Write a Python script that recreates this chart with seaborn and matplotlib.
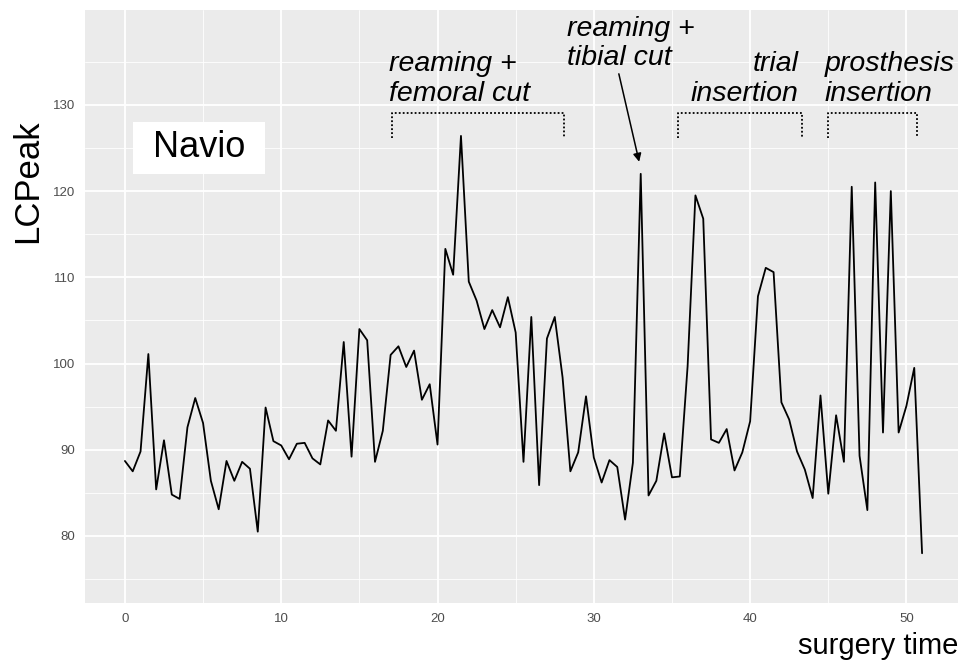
import numpy as np
import pandas as pd
import seaborn as sns
import matplotlib.pyplot as plt
from matplotlib.patches import Rectangle

surgery_time = np.arange(0, 51.5, 0.5)
lcpeak = [
    88.7, 87.5, 89.8, 101.1, 85.4, 91.1, 84.8, 84.3, 92.6, 96.0,
    93.1, 86.4, 83.1, 88.7, 86.4, 88.6, 87.8, 80.5, 94.9, 91.0,
    90.5, 88.9, 90.7, 90.8, 89.0, 88.3, 93.4, 92.2, 102.5, 89.2,
    104.0, 102.7, 88.6, 92.2, 101.0, 102.0, 99.6, 101.5, 95.8, 97.6,
    90.6, 113.3, 110.3, 126.4, 109.5, 107.3, 104.0, 106.2, 104.2, 107.7,
    103.6, 88.6, 105.4, 85.9, 102.9, 105.4, 98.4, 87.5, 89.7, 96.2,
    89.1, 86.2, 88.8, 88.0, 81.9, 88.5, 122.0, 84.7, 86.4, 91.9,
    86.8, 86.9, 99.7, 119.5, 116.8, 91.2, 90.8, 92.4, 87.6, 89.7,
    93.3, 107.8, 111.1, 110.6, 95.5, 93.5, 89.8, 87.7, 84.4, 96.3,
    84.9, 94.0, 88.6, 120.5, 89.3, 83.0, 121.0, 92.0, 120.0, 92.0,
    95.1, 99.5, 78.0,
]

# surgical phases marked with dotted brackets
phase_labels = ["reaming +\nfemoral cut", "trial\ninsertion", "prosthesis\ninsertion"]
phase_start = [17.1, 35.4, 45.0]
phase_end = [28.1, 43.3, 50.7]
phase_text_x = [16.9, 43.1, 44.75]
phase_align = ["left", "right", "left"]

x_ticks = [0, 10, 20, 30, 40, 50]
y_ticks = [80, 90, 100, 110, 120, 130]

FONT = ["Liberation Sans", "DejaVu Sans"]


def main():
    sns.set_theme(style="darkgrid", rc={
        "axes.facecolor": "#EBEBEB",
        "grid.color": "white",
    })
    plt.rcParams["font.family"] = FONT
    plt.rcParams["text.color"] = "black"
    plt.rcParams["axes.labelcolor"] = "black"

    df = pd.DataFrame({"surgery time": surgery_time, "LCPeak": lcpeak})

    fig = plt.figure(figsize=(9.61, 6.64), dpi=100)
    ax = fig.add_axes([0.0885, 0.0919, 0.9084, 0.893])

    sns.lineplot(data=df, x="surgery time", y="LCPeak", color="black",
                 linewidth=1.3, ax=ax)

    ax.set_xlim(-2.55, 53.3)
    ax.set_ylim(72.23, 141.0)
    ax.set_xticks(x_ticks)
    ax.set_yticks(y_ticks)
    ax.set_xticks([5, 15, 25, 35, 45], minor=True)
    ax.set_yticks([75, 85, 95, 105, 115, 125, 135], minor=True)
    ax.grid(which="major", color="white", linewidth=1.3)
    ax.grid(which="minor", color="white", linewidth=0.6)
    for s in ax.spines.values():
        s.set_visible(False)
    ax.tick_params(which="major", length=4, width=1, color="#333333",
                   labelcolor="#4D4D4D", labelsize=9.5, pad=3)
    ax.tick_params(which="minor", length=0)

    ax.set_xlabel("surgery time", fontsize=21, loc="right", labelpad=5)
    ax.set_ylabel("LCPeak", fontsize=25)
    ax.yaxis.set_label_coords(-0.047, 0.712)

    # brackets and phase labels
    for lab, a, b, tx, ha in zip(phase_labels, phase_start, phase_end,
                                 phase_text_x, phase_align):
        ax.plot([a, a, b, b], [126.2, 129.1, 129.1, 126.2], color="black",
                linestyle=(0, (1, 1.2)), linewidth=1.3)
        ax.text(tx, 129.8, lab, ha=ha, va="bottom", multialignment=ha,
                fontsize=20.5, style="italic", linespacing=1.2)

    ax.annotate("", xy=(32.9, 123.4), xytext=(31.6, 133.6),
                arrowprops=dict(arrowstyle="-|>", color="black", lw=1.1,
                                mutation_scale=12, shrinkA=0, shrinkB=0))
    ax.text(28.3, 133.9, "reaming +\ntibial cut", ha="left", va="bottom",
            fontsize=20.5, style="italic", linespacing=1.15)

    ax.add_patch(Rectangle((0.51, 122.0), 8.45, 6.03, facecolor="white",
                           edgecolor="none", zorder=3))
    ax.text(4.74, 125.0, "Navio", ha="center", va="center", fontsize=26,
            zorder=4)

    fig.savefig("out.png", dpi=100)


if __name__ == "__main__":
    main()
